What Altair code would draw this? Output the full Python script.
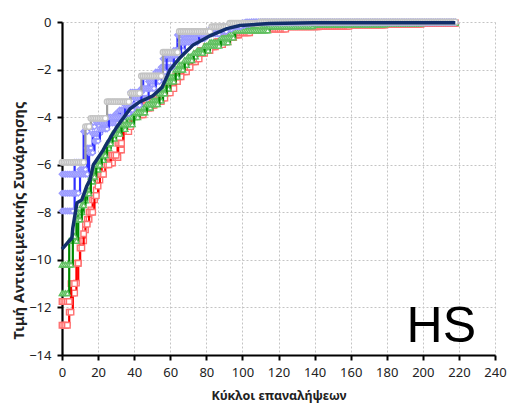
import altair as alt
import pandas as pd

X_END = 218

# Step series: iteration at which a new best value appears, and that value
GRAY_X = [0, 13, 16, 25, 38, 44, 56, 65, 83, 93, 110]
GRAY_Y = [-5.9, -4.4, -4.05, -3.35, -3.0, -2.27, -1.27, -0.4, -0.2, -0.05, 0.0]

BLUE1_X = [0, 7, 12, 15, 19, 30, 38, 45, 56, 64, 82, 95, 105]
BLUE1_Y = [-7.95, -5.9, -4.6, -4.4, -4.2, -3.85, -2.95, -2.3, -1.55, -0.55, -0.3, -0.1, 0.0]
BLUE2_X = [0, 10, 14, 17, 22, 32, 40, 48, 55, 62, 68, 80, 92, 102]
BLUE2_Y = [-7.2, -6.2, -5.3, -4.7, -4.25, -3.7, -3.2, -2.5, -1.9, -1.2, -0.7, -0.4, -0.15, 0.0]
BLUE3_X = [0, 15, 18, 21, 26, 35, 44, 52, 58, 66, 76, 88, 100]
BLUE3_Y = [-6.4, -5.5, -5.0, -4.5, -4.0, -3.5, -2.8, -2.1, -1.4, -0.85, -0.5, -0.2, -0.03]

GREEN1_X = [0, 4, 9, 12, 14, 16, 18, 21, 24, 27, 30, 36, 43, 50, 56, 60, 65, 70, 75, 82, 93, 95, 110, 130, 160, 200]
GREEN1_Y = [-11.4, -9.2, -8.0, -7.5, -7.06, -6.7, -6.2, -5.8, -5.3, -4.9, -4.5, -4.0, -3.6, -3.3, -2.8, -2.3, -1.8, -1.45, -1.2, -0.85, -0.5, -0.27, -0.2, -0.12, -0.06, -0.03]
GREEN2_X = [0, 6, 8, 11, 13, 16, 19, 22, 25, 28, 33, 40, 47, 54, 58, 63, 68, 73, 79, 88, 96, 115, 140, 180]
GREEN2_Y = [-10.2, -9.0, -8.3, -7.7, -7.2, -6.5, -6.0, -5.6, -5.1, -4.7, -4.3, -3.8, -3.45, -3.0, -2.5, -2.0, -1.6, -1.3, -1.0, -0.65, -0.35, -0.18, -0.1, -0.04]

RED1_X = [0, 4, 6, 8, 9, 10, 13, 14, 16, 17, 19, 20, 22, 29, 32, 34, 38, 43, 50, 56, 61, 65, 70, 75, 80, 86, 93, 99, 110, 121, 143, 180, 210]
RED1_Y = [-12.75, -12.2, -11.4, -10.98, -10.14, -9.2, -8.74, -8.3, -7.9, -7.48, -7.06, -6.64, -5.93, -5.7, -5.38, -4.61, -3.98, -3.62, -3.35, -2.98, -2.5, -2.09, -1.67, -1.32, -1.04, -0.83, -0.55, -0.34, -0.27, -0.2, -0.13, -0.07, -0.04]
RED2_X = [0, 5, 8, 10, 12, 13, 15, 18, 20, 21, 24, 27, 31, 34, 39, 46, 52, 58, 63, 67, 72, 77, 83, 90, 96, 105, 125, 160, 200]
RED2_Y = [-11.75, -11.0, -10.14, -9.5, -8.9, -8.5, -8.0, -7.3, -6.9, -6.4, -6.0, -5.6, -5.1, -4.4, -3.9, -3.5, -3.2, -2.8, -2.3, -1.9, -1.55, -1.2, -0.95, -0.65, -0.45, -0.3, -0.18, -0.1, -0.05]

# Mean curve (thick navy line)
NAVY_X = [0, 5.5, 6, 8.3, 11, 13.7, 15.5, 17.4, 22.7, 24.9, 30.5, 37.7, 43.2, 50.4, 55.4, 59.9, 65.4, 72.6, 82, 91.4, 98.7, 115, 140, 218]
NAVY_Y = [-9.55, -9.08, -8.66, -7.6, -7.48, -6.9, -6.64, -6.0, -5.4, -5.1, -4.4, -3.65, -3.35, -3.1, -2.75, -2.0, -1.5, -0.97, -0.58, -0.28, -0.15, -0.06, -0.03, -0.03]

X_TICKS = [0, 20, 40, 60, 80, 100, 120, 140, 160, 180, 200, 220, 240]
Y_TICKS = [-14, -12, -10, -8, -6, -4, -2, 0]

LABEL_TEXT = ["HS"]
LABEL_X = [191]
LABEL_Y = [-13.45]


def expand(xs, ys, run):
    rows = []
    for it in range(0, X_END + 1):
        idx = max(i for i, x in enumerate(xs) if x <= it)
        rows.append({"iter": it, "value": ys[idx], "run": run})
    return pd.DataFrame(rows)


groups = [
    ("red", [(RED1_X, RED1_Y), (RED2_X, RED2_Y)], "#ff0000", "#ff7070", "square"),
    ("green", [(GREEN1_X, GREEN1_Y), (GREEN2_X, GREEN2_Y)], "#008a00", "#60c060", "triangle-up"),
    ("blue", [(BLUE1_X, BLUE1_Y), (BLUE2_X, BLUE2_Y), (BLUE3_X, BLUE3_Y)], "#3030ff", "#9a9aff", "diamond"),
    ("gray", [(GRAY_X, GRAY_Y)], "#a0a0a0", "#c4c4c4", "circle"),
]

xscale = alt.Scale(domain=[0, 240], nice=False)
yscale = alt.Scale(domain=[-14, 0], nice=False)
xaxis = alt.Axis(values=X_TICKS, title="Κύκλοι επαναλήψεων",
                 labelOverlap=False, labelFlush=False, labelBound=False)
yaxis = alt.Axis(values=Y_TICKS, title="Τιμή Αντικειμενικής Συνάρτησης",
                 titleX=-36, titleY=198, titleBaseline="bottom",
                 labelOverlap=False, labelFlush=False)

X = alt.X("iter:Q", scale=xscale, axis=xaxis)
Y = alt.Y("value:Q", scale=yscale, axis=yaxis)

layers = []
for name, runs, lcol, mcol, shape in groups:
    for k, (xs, ys) in enumerate(runs):
        df = expand(xs, ys, f"{name}{k}")
        base = alt.Chart(df).encode(x=X, y=Y)
        layers.append(base.mark_line(interpolate="step-after", color=lcol, strokeWidth=2.2))
        layers.append(base.mark_point(shape=shape, size=30, filled=True, fill="white",
                                      stroke=mcol, strokeWidth=1.4, opacity=1))

navy_df = pd.DataFrame({"iter": NAVY_X, "value": NAVY_Y})
layers.append(alt.Chart(navy_df).mark_line(color="#122f6b", strokeWidth=3.5).encode(x=X, y=Y))

lab_df = pd.DataFrame({"iter": LABEL_X, "value": LABEL_Y, "t": LABEL_TEXT})
layers.append(alt.Chart(lab_df).mark_text(font="Liberation Sans", fontSize=50, align="left",
                                          baseline="alphabetic", color="black").encode(
    x=X, y=Y, text="t:N"))

chart = alt.layer(*layers).properties(
    width=433, height=333,
    autosize=alt.AutoSizeParams(type="none"),
    padding={"left": 62, "top": 22, "right": 26, "bottom": 65},
    background="white",
).configure_view(stroke=None).configure_axis(
    labelFont="Noto Sans", labelFontSize=13, labelColor="#222222", labelOverlap=False,
    titleFont="Noto Sans", titleFontWeight="bold", titleColor="#222222",
    domainColor="black", domainWidth=2.2, tickColor="black", tickWidth=2, tickSize=5,
    gridColor="#c4c4c4", gridDash=[2, 2], gridWidth=1,
).configure_axisX(titlePadding=10, labelPadding=6, titleFontSize=12.5
).configure_axisY(labelPadding=6, titleFontSize=14.5)

chart.save("out.html", embed_options={"renderer": "svg", "actions": False})
